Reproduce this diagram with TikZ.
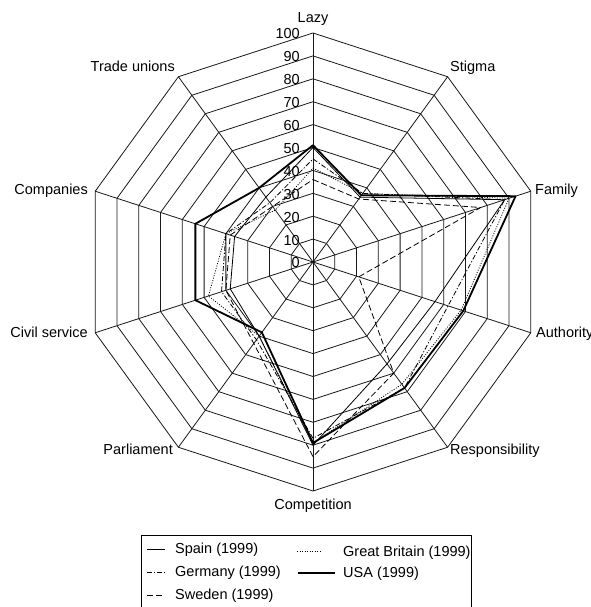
\documentclass[tikz,border=0pt]{standalone}
\usepackage{fontspec}
\setmainfont{Liberation Sans}
% one closed polygon per country: name, style, ten values on the 0--100 scale
\newcommand\radarseries[3]{%
  \foreach \v [count=\i from 0] in {#3} {\coordinate (#1\i) at ({90-36*\i}:{2.29*\v});}
  \draw[#2] (#10) \foreach \i in {1,...,9}{ -- (#1\i)} -- cycle;
}
\begin{document}
\begin{tikzpicture}[x=1pt,y=1pt,
  grid/.style={line width=0.8pt, black!90},
  lab/.style={font=\fontsize{14.5}{16}\selectfont, inner sep=0pt},
  spain/.style={line width=0.8pt},
  germany/.style={line width=0.8pt, dash pattern=on 5pt off 2pt on 1.2pt off 2pt},
  sweden/.style={line width=0.8pt, dash pattern=on 6pt off 3pt},
  gb/.style={line width=0.8pt, dash pattern=on 1pt off 1.5pt},
  usa/.style={line width=1.8pt},
  line join=round]
\useasboundingbox (0,0) rectangle (590,607);
\fill[white] (0,0) rectangle (590,607);

\begin{scope}[shift={(313,345)}]
  \coordinate (O) at (0,0);
  % axis ends
  \foreach \i in {0,...,9} {\coordinate (ax\i) at ({90-36*\i}:229);}
  % rings every 10 units
  \foreach \k in {1,...,10} {
    \draw[grid] (90:{22.9*\k}) \foreach \i in {1,...,9}{ -- ({90-36*\i}:{22.9*\k})} -- cycle;
  }
  % spokes
  \foreach \i in {0,...,9} {\draw[grid] (O) -- (ax\i);}
  % scale
  \foreach \k in {0,...,10} {
    \node[lab, anchor=base east] (tick\k) at (-13,{22.9*\k-6}) {\number\numexpr10*\k\relax};
  }
  % axis names
  \node[lab, anchor=base] (lazy) at (0,239) {Lazy};
  \node[lab, anchor=base west] (stigma) at (137,190) {Stigma};
  \node[lab, anchor=base west] (family) at (222,67) {Family};
  \node[lab, anchor=base west] (authority) at (223,-76) {Authority};
  \node[lab, anchor=base west] (resp) at (137,-193) {Responsibility};
  \node[lab, anchor=base] (comp) at (0,-248) {Competition};
  \node[lab, anchor=base east] (parl) at (-140,-193) {Parliament};
  \node[lab, anchor=base east] (civil) at (-225,-76) {Civil service};
  \node[lab, anchor=base east] (companies) at (-225,67) {Companies};
  \node[lab, anchor=base east] (unions) at (-138,190) {Trade unions};

  % Lazy, Stigma, Family, Authority, Responsibility, Competition,
  % Parliament, Civil service, Companies, Trade unions
  \radarseries{es}{spain}{50,35,88,56,55,80,40,38,36,35}
  \radarseries{de}{germany}{45,37,88,62,68,77,42,42,40,32}
  \radarseries{se}{sweden}{36,34,77,21,60,85,44,40,38,30}
  \radarseries{gb}{gb}{41,37,90,68,66,79,40,48,40,28}
  \radarseries{us}{usa}{51,36,93,69,68,79,38,54,54,40}
\end{scope}

% key
\draw[line width=0.8pt] (141,72) rectangle (471,-20);
\draw[spain]   (147,58) -- (165,58);
\node[lab, anchor=base west] (kes) at (175,53) {Spain (1999)};
\draw[germany] (147,35) -- (165,35);
\node[lab, anchor=base west] (kde) at (175,30) {Germany (1999)};
\draw[sweden]  (147,12) -- (165,12);
\node[lab, anchor=base west] (kse) at (175,7) {Sweden (1999)};
\draw[gb]      (297,56) -- (322,56);
\node[lab, anchor=base west] (kgb) at (343,50) {Great Britain (1999)};
\draw[usa]     (298,34) -- (335,34);
\node[lab, anchor=base west] (kus) at (343,29) {USA (1999)};
\end{tikzpicture}
\end{document}
